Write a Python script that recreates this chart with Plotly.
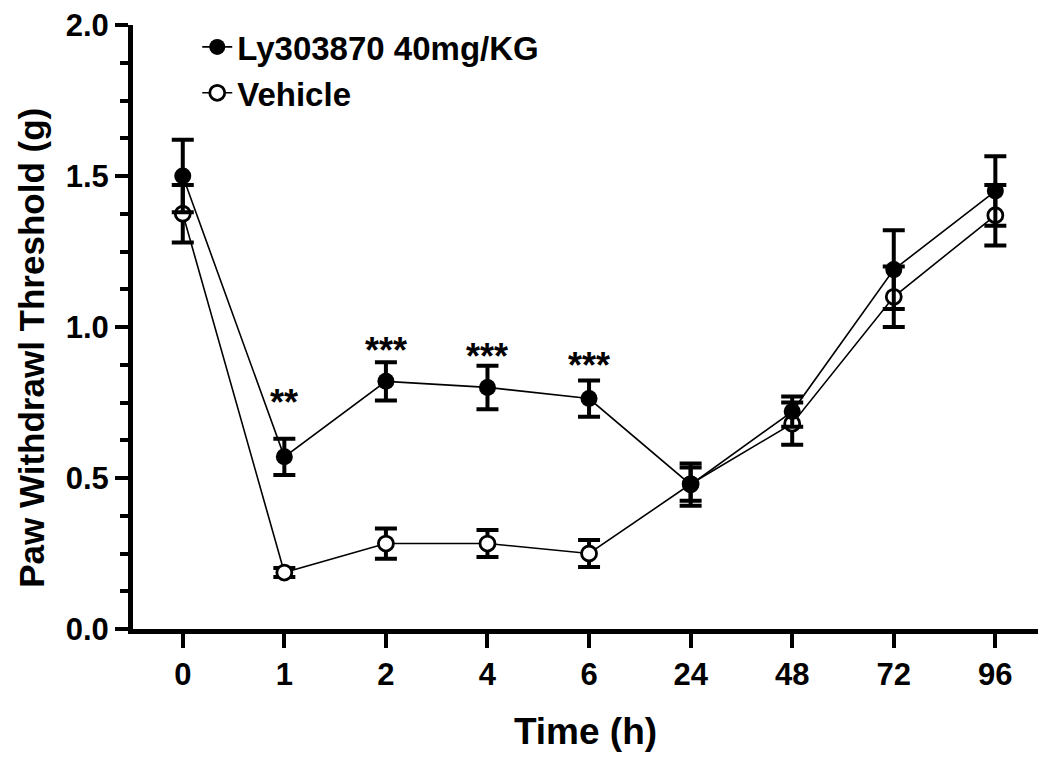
import plotly.graph_objects as go

# time points (categorical, evenly spaced on the axis)
time_labels = ["0", "1", "2", "4", "6", "24", "48", "72", "96"]
x_pos = list(range(len(time_labels)))

ly_mean = [1.50, 0.57, 0.82, 0.80, 0.763, 0.478, 0.72, 1.19, 1.45]
ly_sem = [0.12, 0.06, 0.063, 0.072, 0.06, 0.07, 0.05, 0.13, 0.115]

veh_mean = [1.375, 0.187, 0.283, 0.283, 0.25, 0.48, 0.68, 1.10, 1.37]
veh_sem = [0.095, 0.015, 0.05, 0.045, 0.045, 0.055, 0.07, 0.10, 0.10]

# significance marks (position index, label, y of the text)
sig_idx = [1, 2, 3, 4]
sig_text = ["**", "***", "***", "***"]
sig_y = [0.776, 0.95, 0.928, 0.90]

FONT = "Arial, Liberation Sans, sans-serif"

fig = go.Figure()

fig.add_trace(go.Scatter(
    x=x_pos, y=veh_mean,
    mode="lines+markers",
    name="Vehicle",
    line=dict(color="black", width=1.6),
    marker=dict(symbol="circle", size=15, color="white",
                line=dict(color="black", width=2.8)),
    error_y=dict(type="data", array=veh_sem, visible=True,
                 color="black", thickness=4, width=11),
))

fig.add_trace(go.Scatter(
    x=x_pos, y=ly_mean,
    mode="lines+markers",
    name="Ly303870 40mg/KG",
    line=dict(color="black", width=1.6),
    marker=dict(symbol="circle", size=17, color="black"),
    error_y=dict(type="data", array=ly_sem, visible=True,
                 color="black", thickness=4, width=11),
))

for i, t, y in zip(sig_idx, sig_text, sig_y):
    fig.add_annotation(x=x_pos[i], y=y, text=t, showarrow=False,
                       yshift=-8,
                       font=dict(family=FONT, size=36, color="black", weight="bold"))

# y-axis title placed as a rotated annotation for exact position
fig.add_annotation(x=-0.112, y=0.465, xref="paper", yref="paper",
                   text="Paw Withdrawl Threshold (g)", textangle=-90,
                   showarrow=False, xanchor="center", yanchor="middle",
                   font=dict(family=FONT, size=35, color="black", weight="bold"))

# page body adds an 8px offset, margins compensate for it
fig.update_layout(
    width=1050, height=769,
    paper_bgcolor="white", plot_bgcolor="white",
    margin=dict(l=125, r=20, t=17, b=148, autoexpand=False),
    font=dict(family=FONT, color="black", weight="bold"),
    showlegend=True,
    legend=dict(
        x=0.071, y=1.01, xanchor="left", yanchor="top",
        traceorder="reversed",
        font=dict(family=FONT, size=33, color="black", weight="bold"),
        bgcolor="rgba(0,0,0,0)",
        itemwidth=30,
    ),
    xaxis=dict(
        range=[-0.49, 8.42],
        tickmode="array", tickvals=x_pos, ticktext=time_labels,
        showline=True, linecolor="black", linewidth=5,
        ticks="outside", ticklen=14, tickwidth=4, tickcolor="black",
        showgrid=False, zeroline=False,
        tickfont=dict(family=FONT, size=31, color="black", weight="bold"),
        title=dict(text="Time (h)", standoff=28,
                   font=dict(family=FONT, size=37, color="black", weight="bold")),
    ),
    yaxis=dict(
        range=[0, 2.0],
        tickvals=[0, 0.5, 1.0, 1.5, 2.0], tickformat=".1f",
        ticklabeloverflow="allow",
        showline=True, linecolor="black", linewidth=5,
        ticks="outside", ticklen=13, tickwidth=4, tickcolor="black",
        minor=dict(dtick=0.125, ticks="outside", ticklen=8, tickwidth=4,
                   tickcolor="black", showgrid=False),
        showgrid=False, zeroline=False,
        tickfont=dict(family=FONT, size=31, color="black", weight="bold"),
    ),
)

fig.write_html("out.html")
